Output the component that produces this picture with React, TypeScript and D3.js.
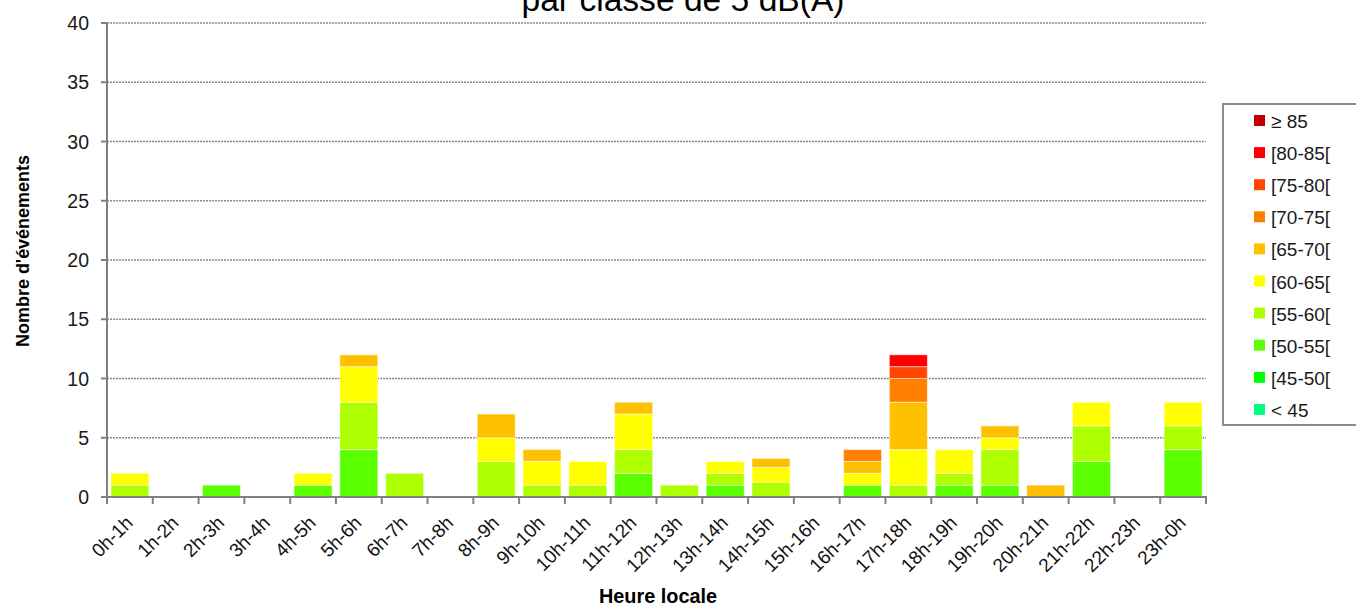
import React from "react";
import * as d3 from "d3";

const hours = ["0h-1h","1h-2h","2h-3h","3h-4h","4h-5h","5h-6h","6h-7h","7h-8h","8h-9h","9h-10h","10h-11h","11h-12h","12h-13h","13h-14h","14h-15h","15h-16h","16h-17h","17h-18h","18h-19h","19h-20h","20h-21h","21h-22h","22h-23h","23h-0h"];
const classes = ["< 45","[45-50[","[50-55[","[55-60[","[60-65[","[65-70[","[70-75[","[75-80[","[80-85[","≥ 85"];
const colors = ["#00FF80","#00FF00","#5AFF00","#AEFF00","#FFFF00","#FFC000","#FF8000","#FF4500","#FF0000","#C00000"];

const lt45 = [0,0,0,0,0,0,0,0,0,0,0,0,0,0,0,0,0,0,0,0,0,0,0,0];
const c45_50 = [0,0,0,0,0,0,0,0,0,0,0,0,0,0,0,0,0,0,0,0,0,0,0,0];
const c50_55 = [0,0,1,0,1,4,0,0,0,0,0,2,0,1,0,0,1,0,1,1,0,3,0,4];
const c55_60 = [1,0,0,0,0,4,2,0,3,1,1,2,1,1,1.25,0,0,1,1,3,0,3,0,2];
const c60_65 = [1,0,0,0,1,3,0,0,2,2,2,3,0,1,1.25,0,1,3,2,1,0,2,0,2];
const c65_70 = [0,0,0,0,0,1,0,0,2,1,0,1,0,0,0.75,0,1,4,0,1,1,0,0,0];
const c70_75 = [0,0,0,0,0,0,0,0,0,0,0,0,0,0,0,0,1,2,0,0,0,0,0,0];
const c75_80 = [0,0,0,0,0,0,0,0,0,0,0,0,0,0,0,0,0,1,0,0,0,0,0,0];
const c80_85 = [0,0,0,0,0,0,0,0,0,0,0,0,0,0,0,0,0,1,0,0,0,0,0,0];
const ge85 = [0,0,0,0,0,0,0,0,0,0,0,0,0,0,0,0,0,0,0,0,0,0,0,0];
const seriesValues = [lt45,c45_50,c50_55,c55_60,c60_65,c65_70,c70_75,c75_80,c80_85,ge85];
const yTicks = [0,5,10,15,20,25,30,35,40];

const W = 1356, H = 608;
const left = 107, right = 1206, top = 23, bottom = 497;
const font = "'Liberation Sans', Arial, sans-serif";

export default function App() {
  const x = d3.scaleBand().domain(hours).range([left, right]).paddingInner(0.17).paddingOuter(0.085);
  const xStep = (right - left) / hours.length;
  const y = d3.scaleLinear().domain([0, 40]).range([bottom, top]);
  const rows = hours.map((h, i) => {
    const o: any = { h };
    classes.forEach((c, k) => (o[c] = seriesValues[k][i]));
    return o;
  });
  const stacked = d3.stack().keys(classes)(rows);
  return (
    <svg width={W} height={H} style={{ position: "absolute", left: 0, top: 0, background: "#fff" }}>
      <text x={683} y={11} textAnchor="middle" fontFamily={font} fontSize={33} textLength={323} lengthAdjust="spacingAndGlyphs" fill="#000">par classe de 5 dB(A)</text>
      {yTicks.map(t => (
        <g key={t}>
          {t > 0 && <line x1={left} x2={right} y1={y(t)} y2={y(t)} stroke="#8c8c8c" strokeWidth={1.3} strokeDasharray="2,1" />}
          <line x1={left - 6} x2={left} y1={y(t)} y2={y(t)} stroke="#808080" strokeWidth={2} />
          <text x={89} y={y(t) + 7} textAnchor="end" fontFamily={font} fontSize={19.5} fill="#1a1a1a">{t}</text>
        </g>
      ))}
      {stacked.map((s, k) => (
        <g key={k} fill={colors[k]}>
          {s.map((d, i) => d[1] - d[0] > 0 ? (
            <rect key={i} x={x(hours[i])} width={x.bandwidth()} y={y(d[1])} height={y(d[0]) - y(d[1])} stroke="#ffffff" strokeOpacity={0.5} strokeWidth={1} />
          ) : null)}
        </g>
      ))}
      <line x1={left} x2={left} y1={top} y2={bottom + 1} stroke="#808080" strokeWidth={2} />
      <line x1={left - 6} x2={right + 1} y1={bottom} y2={bottom} stroke="#808080" strokeWidth={2} />
      {d3.range(hours.length + 1).map(i => (
        <line key={i} x1={left + i * xStep} x2={left + i * xStep} y1={bottom} y2={bottom + 7} stroke="#808080" strokeWidth={2} />
      ))}
      {hours.map(h => {
        const cx = (x(h) as number) + x.bandwidth() / 2 + 4;
        return (
          <text key={h} transform={`translate(${cx},${524}) rotate(-45)`} textAnchor="end" fontFamily={font} fontSize={19} fill="#111">{h}</text>
        );
      })}
      <text x={658} y={603} textAnchor="middle" fontFamily={font} fontSize={20} fontWeight="bold" fill="#000" textLength={118} lengthAdjust="spacingAndGlyphs">Heure locale</text>
      <text transform="translate(29,251) rotate(-90)" textAnchor="middle" fontFamily={font} fontSize={19} fontWeight="bold" fill="#000" textLength={192} lengthAdjust="spacingAndGlyphs">Nombre d'événements</text>
      <rect x={1223} y={104} width={140} height={321} fill="#fff" stroke="#8c8c8c" strokeWidth={2} />
      {classes.slice().reverse().map((c, j) => {
        const k = classes.length - 1 - j;
        const yy = 121 + j * 32.1;
        return (
          <g key={c}>
            <rect x={1254} y={yy - 6} width={11} height={11} fill={colors[k]} />
            <text x={1271} y={yy + 7} fontFamily={font} fontSize={19} fill="#1a1a1a">{c}</text>
          </g>
        );
      })}
    </svg>
  );
}
